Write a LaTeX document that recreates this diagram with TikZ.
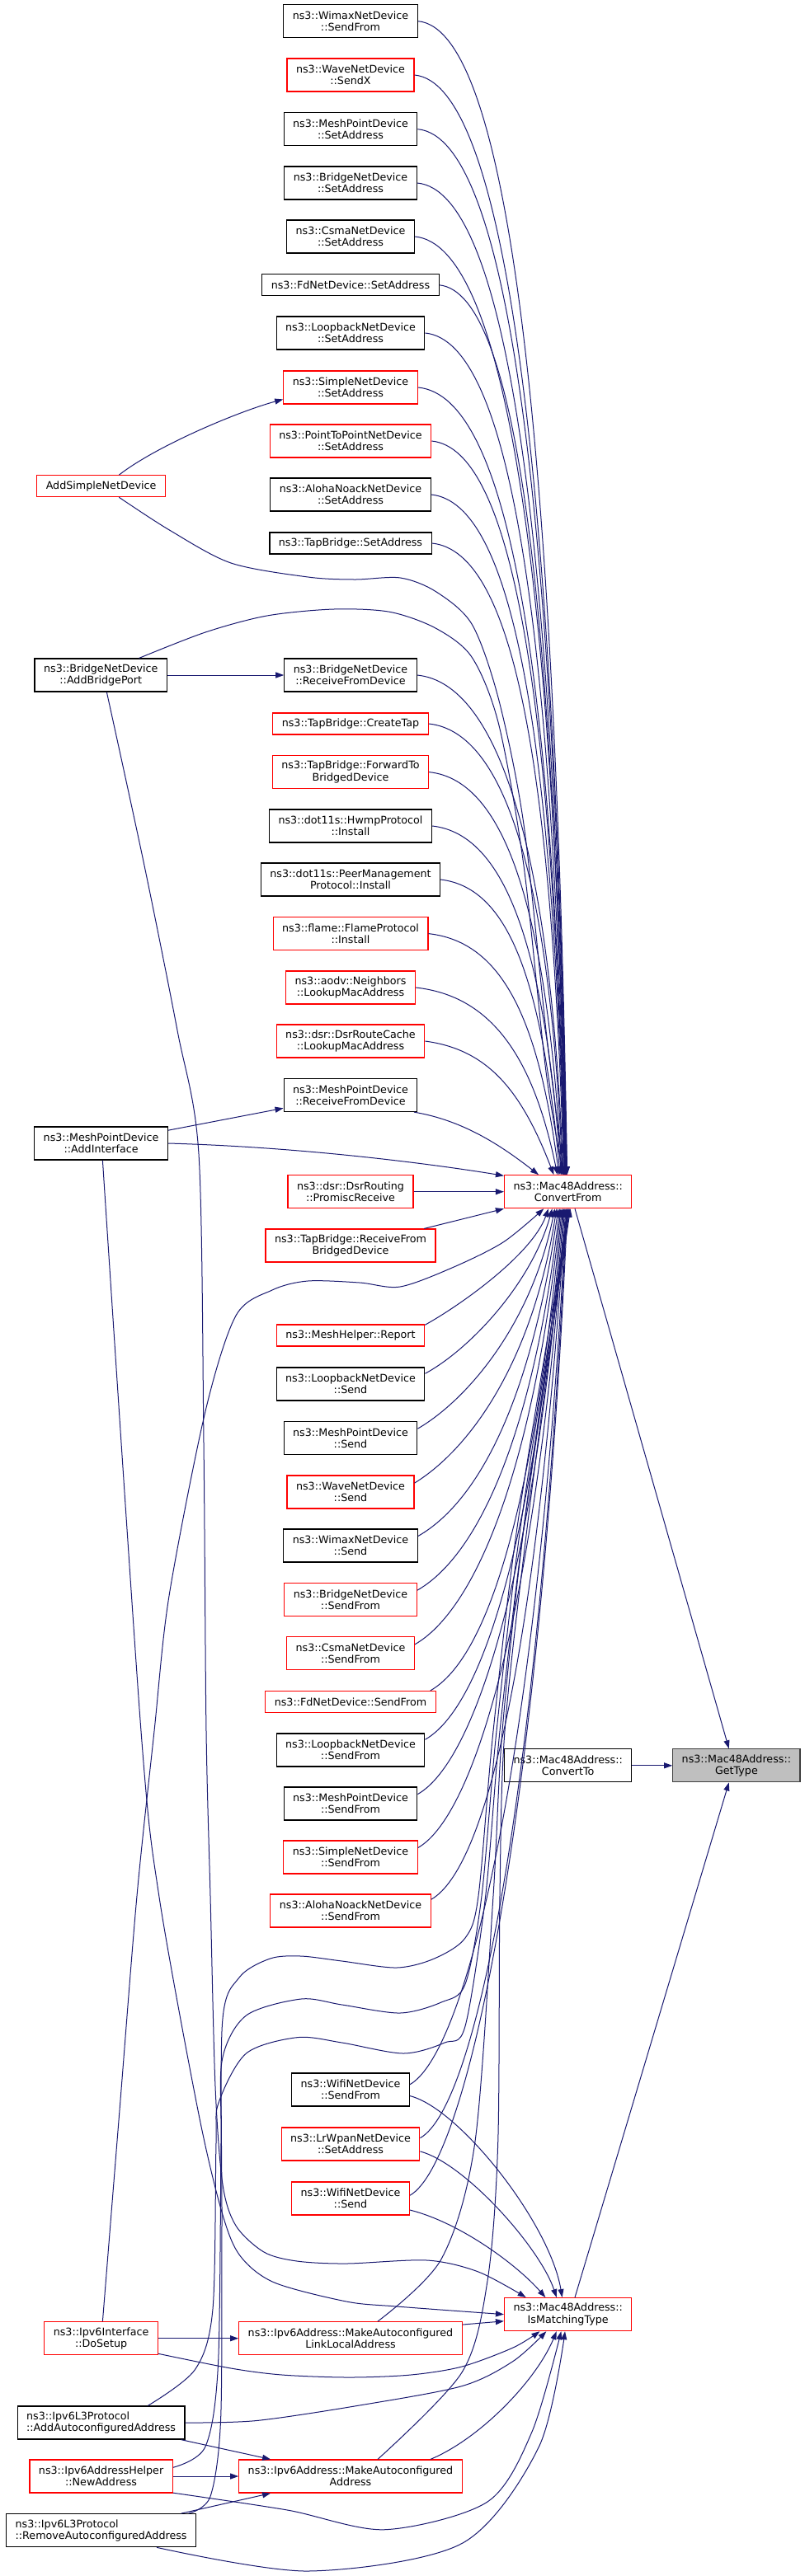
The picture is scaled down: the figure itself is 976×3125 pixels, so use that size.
\documentclass[tikz,border=0pt]{standalone}
\usepackage{fontspec}
\setmainfont{DejaVu Sans}
\usetikzlibrary{arrows.meta}
\definecolor{callblue}{RGB}{25,25,112}
\definecolor{cutred}{RGB}{255,0,0}
\definecolor{focusgray}{RGB}{191,191,191}

\begin{document}
\begin{tikzpicture}[x=1pt, y=1pt,
    fn/.style={draw=black, fill=white, line width=1.2pt, inner xsep=11pt, inner ysep=2pt,
        minimum height=40pt, align=center, font=\fontsize{12.7}{14.3}\selectfont},
    fncut/.style={fn, draw=cutred},
    oneline/.style={minimum height=26pt},
    calls/.style={draw=callblue, line width=1pt, -{Triangle[length=10pt,width=7pt]}}]
    \fill[white] (0,0) rectangle (976,-3125);
    \useasboundingbox (0,0) rectangle (976,-3125);

    % right column
    \node[fncut] (cf) at (688.7,-1445.7) {ns3::Mac48Address::\\ConvertFrom};
    \node[fn] (ct) at (688.7,-2141.8) {ns3::Mac48Address::\\ConvertTo};
    \node[fn, fill=focusgray, draw=black!75] (gt) at (892.9,-2141.8) {ns3::Mac48Address::\\GetType};
    \node[fncut] (imt) at (688.7,-2807.6) {ns3::Mac48Address::\\IsMatchingType};

    % middle column
    \node[fn] (wimaxsf) at (425,-25.7) {ns3::WimaxNetDevice\\::SendFrom};
    \node[fncut] (wavesx) at (425,-91) {ns3::WaveNetDevice\\::SendX};
    \node[fn] (meshsa) at (425,-156.7) {ns3::MeshPointDevice\\::SetAddress};
    \node[fn] (bridgesa) at (425,-222) {ns3::BridgeNetDevice\\::SetAddress};
    \node[fn] (csmasa) at (425,-287) {ns3::CsmaNetDevice\\::SetAddress};
    \node[fn, oneline] (fdsa) at (425,-345.8) {ns3::FdNetDevice::SetAddress};
    \node[fn] (loopsa) at (425,-404) {ns3::LoopbackNetDevice\\::SetAddress};
    \node[fncut] (simplesa) at (425,-470) {ns3::SimpleNetDevice\\::SetAddress};
    \node[fncut] (p2psa) at (425,-535) {ns3::PointToPointNetDevice\\::SetAddress};
    \node[fn] (alohasa) at (425,-600) {ns3::AlohaNoackNetDevice\\::SetAddress};
    \node[fn, oneline] (tapsa) at (425,-659) {ns3::TapBridge::SetAddress};
    \node[fn] (bridgerfd) at (425,-819) {ns3::BridgeNetDevice\\::ReceiveFromDevice};
    \node[fncut, oneline] (tapct) at (425,-878) {ns3::TapBridge::CreateTap};
    \node[fncut] (tapfwd) at (425,-936.6) {ns3::TapBridge::ForwardTo\\BridgedDevice};
    \node[fn] (hwmp) at (425,-1002) {ns3::dot11s::HwmpProtocol\\::Install};
    \node[fn] (peer) at (425,-1067) {ns3::dot11s::PeerManagement\\Protocol::Install};
    \node[fncut] (flame) at (425,-1132.6) {ns3::flame::FlameProtocol\\::Install};
    \node[fncut] (aodv) at (425,-1198) {ns3::aodv::Neighbors\\::LookupMacAddress};
    \node[fncut] (dsrcache) at (425,-1263) {ns3::dsr::DsrRouteCache\\::LookupMacAddress};
    \node[fn] (meshrfd) at (425,-1328.5) {ns3::MeshPointDevice\\::ReceiveFromDevice};
    \node[fncut] (dsrprom) at (425,-1445.7) {ns3::dsr::DsrRouting\\::PromiscReceive};
    \node[fncut] (taprfb) at (425,-1511) {ns3::TapBridge::ReceiveFrom\\BridgedDevice};
    \node[fncut, oneline] (meshrep) at (425,-1620) {ns3::MeshHelper::Report};
    \node[fn] (loopsend) at (425,-1679) {ns3::LoopbackNetDevice\\::Send};
    \node[fn] (meshsend) at (425,-1744.6) {ns3::MeshPointDevice\\::Send};
    \node[fncut] (wavesend) at (425,-1810) {ns3::WaveNetDevice\\::Send};
    \node[fn] (wimaxsend) at (425,-1875) {ns3::WimaxNetDevice\\::Send};
    \node[fncut] (bridgesf) at (425,-1940.6) {ns3::BridgeNetDevice\\::SendFrom};
    \node[fncut] (csmasf) at (425,-2005.8) {ns3::CsmaNetDevice\\::SendFrom};
    \node[fncut, oneline] (fdsf) at (425,-2064.5) {ns3::FdNetDevice::SendFrom};
    \node[fn] (loopsf) at (425,-2123) {ns3::LoopbackNetDevice\\::SendFrom};
    \node[fn] (meshsf) at (425,-2188) {ns3::MeshPointDevice\\::SendFrom};
    \node[fncut] (simplesf) at (425,-2253) {ns3::SimpleNetDevice\\::SendFrom};
    \node[fncut] (alohasf) at (425,-2318) {ns3::AlohaNoackNetDevice\\::SendFrom};
    \node[fn] (wifisf) at (425,-2535) {ns3::WifiNetDevice\\::SendFrom};
    \node[fncut] (lrwpan) at (425,-2601) {ns3::LrWpanNetDevice\\::SetAddress};
    \node[fncut] (wifisend) at (425,-2667) {ns3::WifiNetDevice\\::Send};
    \node[fncut] (linklocal) at (425,-2836.7) {ns3::Ipv6Address::MakeAutoconfigured\\LinkLocalAddress};
    \node[fncut] (autoaddr) at (425,-3004) {ns3::Ipv6Address::MakeAutoconfigured\\Address};

    % left column
    \node[fncut, oneline] (addsimple) at (122.6,-589.7) {AddSimpleNetDevice};
    \node[fn] (addbridge) at (122.3,-819) {ns3::BridgeNetDevice\\::AddBridgePort};
    \node[fn] (addif) at (122.6,-1387) {ns3::MeshPointDevice\\::AddInterface};
    \node[fncut] (dosetup) at (122.6,-2836.7) {ns3::Ipv6Interface\\::DoSetup};
    \node[fn, align=left] (l3add) at (122.6,-2939) {ns3::Ipv6L3Protocol\\::AddAutoconfiguredAddress};
    \node[fncut] (helper) at (122.6,-3004) {ns3::Ipv6AddressHelper\\::NewAddress};
    \node[fn, align=left] (l3rem) at (122.6,-3069.7) {ns3::Ipv6L3Protocol\\::RemoveAutoconfiguredAddress};

    % callers above ConvertFrom
    \draw[calls] (wimaxsf.east) .. controls +(110,-10) and +(-15,896) .. (cf.93);
    \draw[calls] (wavesx.east) .. controls +(110,-10) and +(-15,854) .. (cf.94);
    \draw[calls] (meshsa.east) .. controls +(110,-10) and +(-15,812) .. (cf.95);
    \draw[calls] (bridgesa.east) .. controls +(110,-10) and +(-15,770) .. (cf.96);
    \draw[calls] (csmasa.east) .. controls +(110,-10) and +(-15,729) .. (cf.97);
    \draw[calls] (fdsa.east) .. controls +(95,-10) and +(-15,691) .. (cf.98);
    \draw[calls] (loopsa.east) .. controls +(105,-10) and +(-15,654) .. (cf.99);
    \draw[calls] (simplesa.east) .. controls +(110,-10) and +(-15,612) .. (cf.100);
    \draw[calls] (p2psa.east) .. controls +(100,-10) and +(-15,570) .. (cf.101);
    \draw[calls] (alohasa.east) .. controls +(100,-10) and +(-15,529) .. (cf.102);
    \draw[calls] (tapsa.east) .. controls +(100,-10) and +(-15,491) .. (cf.104);
    \draw[calls] (bridgerfd.east) .. controls +(100,-10) and +(-15,388) .. (cf.106);
    \draw[calls] (tapct.east) .. controls +(95,-10) and +(-15,351) .. (cf.108);
    \draw[calls] (tapfwd.east) .. controls +(95,-10) and +(-18,313) .. (cf.110);
    \draw[calls] (hwmp.east) .. controls +(90,-10) and +(-20,271) .. (cf.112);
    \draw[calls] (peer.east) .. controls +(85,-10) and +(-22,230) .. (cf.115);
    \draw[calls] (flame.east) .. controls +(90,-10) and +(-25,188) .. (cf.118);
    \draw[calls] (aodv.east) .. controls +(90,-10) and +(-30,146) .. (cf.122);
    \draw[calls] (dsrcache.east) .. controls +(75,-10) and +(-40,104) .. (cf.130);
    \draw[calls] (meshrfd.-15) .. controls +(60,-10) and +(-45,35) .. (cf.150);
    \draw[calls] (dsrprom.east) -- (cf.west);
    \draw[calls] (taprfb.13) -- (cf.south west);

    % callers below ConvertFrom
    \draw[calls] (meshrep.8) .. controls +(45,25) and +(-20,-55) .. (cf.-139);
    \draw[calls] (loopsend.8) .. controls +(55,30) and +(-25,-90) .. (cf.-133);
    \draw[calls] (meshsend.8) .. controls +(60,35) and +(-28,-140) .. (cf.-128);
    \draw[calls] (wavesend.8) .. controls +(65,40) and +(-30,-190) .. (cf.-124);
    \draw[calls] (wimaxsend.8) .. controls +(70,40) and +(-34,-240) .. (cf.-120);
    \draw[calls] (bridgesf.8) .. controls +(70,40) and +(-34,-286) .. (cf.-116);
    \draw[calls] (csmasf.8) .. controls +(70,40) and +(-34,-327) .. (cf.-113);
    \draw[calls] (fdsf.8) .. controls +(70,40) and +(-34,-363) .. (cf.-110);
    \draw[calls] (loopsf.8) .. controls +(70,40) and +(-34,-400) .. (cf.-107);
    \draw[calls] (meshsf.8) .. controls +(70,40) and +(-34,-440) .. (cf.-104);
    \draw[calls] (simplesf.8) .. controls +(70,40) and +(-34,-480) .. (cf.-101);
    \draw[calls] (alohasf.8) .. controls +(70,40) and +(-34,-521) .. (cf.-98);
    \draw[calls] (wifisf.5) .. controls +(70,40) and +(-34,-659) .. (cf.-96);
    \draw[calls] (lrwpan.5) .. controls +(70,40) and +(-34,-700) .. (cf.-94);
    \draw[calls] (wifisend.3) .. controls +(70,40) and +(-34,-743) .. (cf.-92);
    \draw[calls] plot[smooth] coordinates {(linklocal.32) (535,-2740.6) (575.7,-2600) (598,-2300) (609,-2100) (636,-1846) (cf.-90)};
    \draw[calls] plot[smooth] coordinates {(autoaddr.32) (560,-2878) (591,-2767) (603.7,-2600) (606,-2300) (612,-2100) (640,-1846) (cf.-88)};

    % left callers
    \draw[calls] (addsimple.32) .. controls +(45,35) and +(-55,-15) .. (simplesa.-170);
    \draw[calls] plot[smooth] coordinates {(addsimple.-32) (205.4,-643) (280,-683) (373.4,-700) (430,-703) (485.5,-701) (529,-718) (572.6,-758) (605,-850) (635,-1000) (662,-1250) (cf.103)};
    \draw[calls] (addbridge.east) -- (bridgerfd.west);
    \draw[calls] plot[smooth] coordinates {(addbridge.24) (249,-767) (323.6,-747) (404.6,-739) (473,-742.4) (529,-762.5) (572.6,-798) (605,-880) (635,-1050) (662,-1300) (cf.105)};
    \draw[calls] plot[smooth] coordinates {(addbridge.-71) (175,-1050) (215,-1250) (241,-1400) (247,-1750) (250,-2100) (255,-2300) (261,-2531) (270,-2650) (286,-2700) (320,-2732) (360,-2743) (420,-2746) (518,-2742) (580,-2756) (imt.158)};
    \draw[calls] (addif.11) -- (meshrfd.-169);
    \draw[calls] (addif.east) .. controls +(180,-5) and +(-60,10) .. (cf.166);
    \draw[calls] plot[smooth] coordinates {(addif.-85) (171,-2100) (192.8,-2300) (240,-2560) (268,-2680) (290,-2735) (331.7,-2768.6) (420,-2792) (481,-2798) (imt.west)};
    \draw[calls] plot[smooth] coordinates {(dosetup.85) (145,-2560) (166,-2300) (187,-2100) (205,-1936) (249,-1712) (286,-1596) (330,-1565) (373,-1554) (436,-1556) (485,-1561) (548,-1538) (610,-1507) (cf.-145)};
    \draw[calls] plot[smooth] coordinates {(l3rem.11) (255,-3028.5) (267.6,-2935) (269,-2700) (269.5,-2455) (290,-2399) (327.5,-2376) (365,-2373) (414.6,-2379) (481,-2387) (526.5,-2376) (564,-2351) (580,-2300) (598,-2100) (628,-1846) (cf.-86)};
    \draw[calls] plot[smooth] coordinates {(helper.7) (249,-2968) (264.5,-2868) (268,-2600) (269.5,-2498) (298.5,-2445) (365,-2425) (414.6,-2432) (485,-2442) (535,-2429) (564,-2407) (584,-2300) (602,-2100) (632,-1846) (cf.-84)};
    \draw[calls] plot[smooth] coordinates {(l3add.20) (236.5,-2874.5) (258,-2801) (262,-2600) (265,-2551) (298.5,-2491) (360.7,-2471.6) (414.6,-2478) (489,-2491) (539,-2478) (564,-2458) (588.7,-2300) (606,-2100) (636,-1846) (cf.-82)};
    \draw[calls] (dosetup.east) -- (linklocal.west);
    \draw[calls] (l3add.-12) -- (autoaddr.168);
    \draw[calls] (helper.east) -- (autoaddr.west);
    \draw[calls] (l3rem.12) -- (autoaddr.-168);

    % callers of IsMatchingType
    \draw[calls] (linklocal.7) -- (imt.-174);
    \draw[calls] plot[smooth] coordinates {(dosetup.-15) (280,-2873) (342,-2881) (423,-2884) (498,-2881) (560,-2871) (622,-2848) (imt.-149)};
    \draw[calls] plot[smooth] coordinates {(l3add.east) (311,-2936.5) (435.7,-2918) (560,-2894.6) (622,-2864.5) (imt.-142)};
    \draw[calls] (autoaddr.12) .. controls +(60,25) and +(-25,-60) .. (imt.-124);
    \draw[calls] plot[smooth] coordinates {(helper.-13) (348.5,-3045) (466.8,-3068.7) (591,-3035) (645,-2950) (imt.-112)};
    \draw[calls] plot[smooth] coordinates {(l3rem.-17) (373.4,-3119) (560,-3085.5) (653.5,-2968) (imt.-100)};
    \draw[calls] (wifisf.-6) .. controls +(60,-15) and +(-15,90) .. (imt.109);
    \draw[calls] (lrwpan.-6) .. controls +(55,-15) and +(-20,60) .. (imt.124);
    \draw[calls] (wifisend.-11) .. controls +(60,-15) and +(-35,40) .. (imt.143);

    % callers of GetType
    \draw[calls] (ct.east) -- (gt.west);
    \draw[calls] (cf.-68) -- (gt.114);
    \draw[calls] (imt.68) -- (gt.-114);
\end{tikzpicture}
\end{document}
